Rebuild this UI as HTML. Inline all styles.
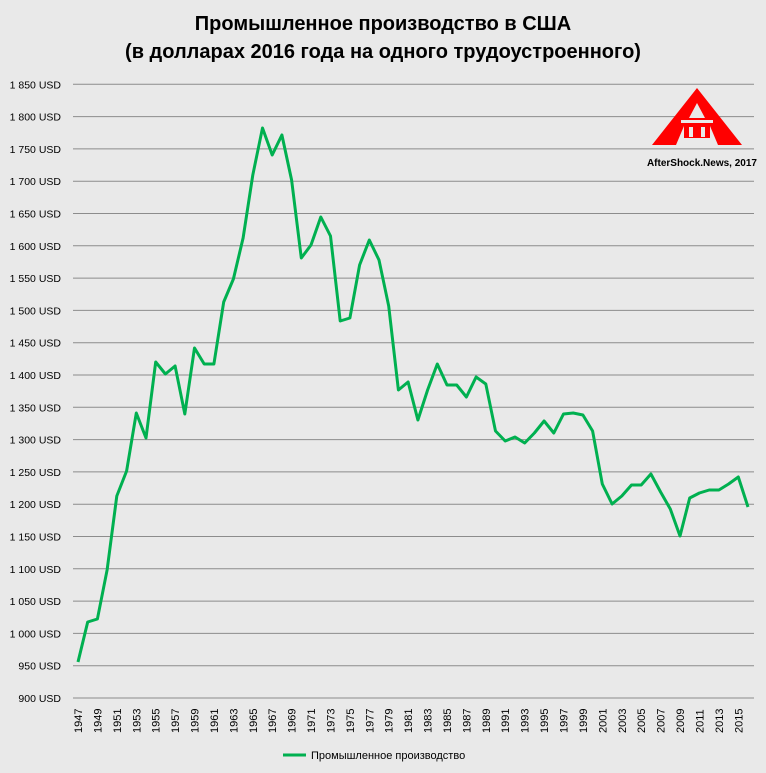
<!DOCTYPE html>
<html><head><meta charset="utf-8"><style>
body{margin:0;}
#c{width:766px;height:773px;background:#e9e9e9;position:relative;overflow:hidden;font-family:"Liberation Sans",sans-serif;}
</style></head><body><div id="c">
<svg width="766" height="773" xmlns="http://www.w3.org/2000/svg" font-family="Liberation Sans, sans-serif">
<text x="383" y="30" text-anchor="middle" font-size="20" font-weight="bold">Промышленное производство в США</text>
<text x="383" y="58" text-anchor="middle" font-size="20" font-weight="bold">(в долларах 2016 года на одного трудоустроенного)</text>
<g id="grid" stroke="#8c8c8c" stroke-width="1"></g>
<g id="yl" font-size="10.5" text-anchor="end"></g>
<g id="xl" font-size="11"></g>
<polygon points="697,88 742,145 718,145 710,126 684,126 676,145 652,145" fill="#f00"/>
<polygon points="697,103 705,118 689,118" fill="#e9e9e9"/>
<rect x="681" y="120" width="32" height="3" fill="#e9e9e9"/>
<rect x="684" y="126" width="26" height="12" fill="#f00"/>
<rect x="689" y="127" width="4" height="10" fill="#e9e9e9"/>
<rect x="701" y="127" width="4" height="10" fill="#e9e9e9"/>
<text x="757" y="166" font-size="10" font-weight="bold" text-anchor="end">AfterShock.News, 2017</text>
<polyline id="ln" fill="none" stroke="#00b050" stroke-width="3" stroke-linejoin="round"/>
<line x1="283" y1="755" x2="306" y2="755" stroke="#00b050" stroke-width="3"/>
<text x="311" y="759" font-size="11">Промышленное производство</text>
</svg>
<script>
var g=document.getElementById('grid'),yl=document.getElementById('yl'),xl=document.getElementById('xl');
var ns="http://www.w3.org/2000/svg";
for(var i=0;i<20;i++){var v=900+i*50,y=698-i*32.3;
var l=document.createElementNS(ns,'line');l.setAttribute('x1',73);l.setAttribute('x2',754);l.setAttribute('y1',y);l.setAttribute('y2',y);g.appendChild(l);
var t=document.createElementNS(ns,'text');t.setAttribute('x',61);t.setAttribute('y',y+4);
t.textContent=(v>=1000?(Math.floor(v/1000)+' '+String(v%1000).padStart(3,'0')):v)+' USD';yl.appendChild(t);}
for(var yr=1947;yr<=2015;yr+=2){var x=78+(yr-1947)*9.71;
var t=document.createElementNS(ns,'text');t.setAttribute('transform','translate('+(x+4)+',733) rotate(-90)');t.textContent=yr;xl.appendChild(t);}
var ys=[662,622,619,570,496,471,413,438,362,374,366,414,348,364,364,302,279,238,175,128,155,135,180,258,245,217,236,321,318,265,240,260,306,390,382,420,390,364,385,385,397,377,384,431,441,437,443,433,421,433,414,413,415,431,484,504,496,485,485,474,492,509,536,498,493,490,490,484,477,507];
document.getElementById('ln').setAttribute('points',ys.map(function(y,i){return (78+i*9.71).toFixed(1)+','+y}).join(' '));
</script>
</div></body></html>
